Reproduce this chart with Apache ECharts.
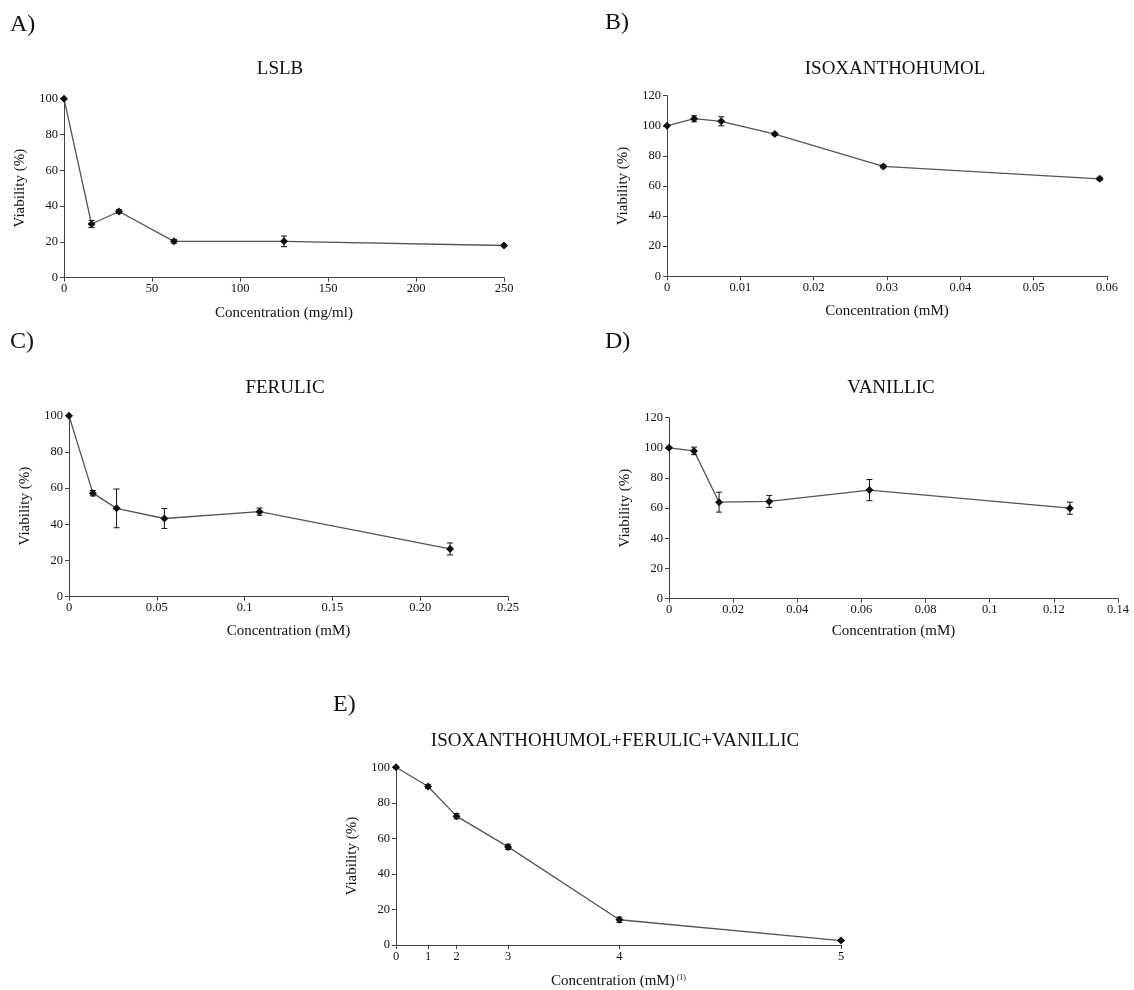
<!DOCTYPE html>
<html><head><meta charset="utf-8">
<script src="https://cdn.jsdelivr.net/npm/echarts@6/dist/echarts.min.js"></script>
<style>html,body{margin:0;padding:0;background:#fff}#c{width:1134px;height:990px}</style>
</head><body><div id="c"></div>
<script>
// ---- Data ----
const xA = [0, 15.625, 31.25, 62.5, 125, 250];
const yA = [100, 30, 37, 20.3, 20.3, 18];
const eA = [0, 2, 1, 1, 3, 0.5];
const ticksA = ['0', '50', '100', '150', '200', '250'];

const xB = [0, 0.0037, 0.0074, 0.0147, 0.0295, 0.059];
const yB = [100, 104.7, 103, 94.5, 73, 64.8];
const eB = [0.5, 2, 3, 0.8, 1, 1];
const ticksB = ['0', '0.01', '0.02', '0.03', '0.04', '0.05', '0.06'];

const xC = [0, 0.0136, 0.0271, 0.0543, 0.1085, 0.217];
const yC = [100, 57.2, 48.8, 43.2, 47, 26.4];
const eC = [0, 1.5, 10.7, 5.5, 2, 3.3];
const ticksC = ['0', '0.05', '0.1', '0.15', '0.20', '0.25'];

const xD = [0, 0.0078, 0.0156, 0.03125, 0.0625, 0.125];
const yD = [100, 98, 64, 64.5, 72, 60];
const eD = [0.5, 2.5, 6.6, 4, 7, 4];
const ticksD = ['0', '0.02', '0.04', '0.06', '0.08', '0.1', '0.12', '0.14'];

const xE = [0, 0.36, 0.68, 1.26, 2.51, 5];
const yE = [100, 89.2, 72.5, 55.2, 14.2, 2.5];
const eE = [0.5, 1, 1.5, 1.5, 1.5, 0.5];
const ticksE = ['0', '1', '2', '3', '4', '5'];

const titles = ['LSLB', 'ISOXANTHOHUMOL', 'FERULIC', 'VANILLIC', 'ISOXANTHOHUMOL+FERULIC+VANILLIC'];
const letters = ['A)', 'B)', 'C)', 'D)', 'E)'];
const xNames = ['Concentration (mg/ml)', 'Concentration (mM)', 'Concentration (mM)', 'Concentration (mM)', 'Concentration (mM){sup| (1)}'];
const yName = 'Viability (%)';

// ---- Layout / styling ----
const FONT = '"Liberation Serif", "DejaVu Serif", serif';
const TXT = '#111';
const panels = [
  {x: xA, y: yA, e: eA, ticks: ticksA, xmax: 250, xint: 50, ymax: 100, gap: 28,
   grid: {left: 64, top: 98.7, width: 440, height: 179},
   title: [280, 69], letter: [10, 25]},
  {x: xB, y: yB, e: eB, ticks: ticksB, xmax: 0.06, xint: 0.01, ymax: 120, gap: 27,
   grid: {left: 667, top: 95.7, width: 440, height: 180.6},
   title: [895, 69], letter: [605, 23]},
  {x: xC, y: yC, e: eC, ticks: ticksC, xmax: 0.25, xint: 0.05, ymax: 100, gap: 27,
   grid: {left: 69, top: 415.7, width: 439, height: 181},
   title: [285, 388], letter: [10, 342]},
  {x: xD, y: yD, e: eD, ticks: ticksD, xmax: 0.14, xint: 0.02, ymax: 120, gap: 25,
   grid: {left: 669, top: 417.7, width: 449, height: 181},
   title: [891, 388], letter: [605, 342]},
  {x: xE, y: yE, e: eE, ticks: ticksE, xmax: 5, xint: null, ymax: 100, custom: true, gap: 29,
   grid: {left: 396, top: 767.3, width: 445, height: 180.7},
   title: [615, 741], letter: [333, 705]}
];

const axisLineStyle = {color: '#444', width: 1};
const grids = [], xAxes = [], yAxes = [], series = [], graphics = [];

function errRender(params, api) {
  const x = api.value(0), y = api.value(1), e = api.value(2);
  if (!e) return null;
  const t = api.coord([x, y + e]);
  const b = api.coord([x, y - e]);
  const cw = 3;
  const st = {stroke: '#111', lineWidth: 1};
  return {type: 'group', children: [
    {type: 'line', shape: {x1: t[0], y1: t[1], x2: b[0], y2: b[1]}, style: st},
    {type: 'line', shape: {x1: t[0] - cw, y1: t[1], x2: t[0] + cw, y2: t[1]}, style: st},
    {type: 'line', shape: {x1: b[0] - cw, y1: b[1], x2: b[0] + cw, y2: b[1]}, style: st}
  ]};
}

panels.forEach((p, i) => {
  grids.push(Object.assign({containLabel: false}, p.grid));
  const xa = {
    type: 'value', gridIndex: i, min: 0, max: p.xmax,
    name: xNames[i], nameLocation: 'middle', nameGap: p.gap,
    nameTextStyle: {fontFamily: FONT, fontSize: 15, color: TXT,
      rich: {sup: {fontFamily: FONT, fontSize: 8, color: TXT, verticalAlign: 'top', lineHeight: 10}}},
    axisLine: {show: true, lineStyle: axisLineStyle},
    axisTick: {show: true, inside: false, length: 4, lineStyle: axisLineStyle},
    splitLine: {show: false},
    axisLabel: {fontFamily: FONT, fontSize: 12.5, color: TXT, margin: 5, showMinLabel: true, showMaxLabel: true}
  };
  if (p.custom) {
    xa.axisLabel.customValues = p.x;
    xa.axisTick.customValues = p.x;
    xa.axisLabel.formatter = v => { const k = p.x.findIndex(q => Math.abs(q - v) < 1e-9); return k >= 0 ? p.ticks[k] : ''; };
  } else {
    xa.interval = p.xint;
    xa.axisLabel.formatter = (v) => p.ticks[Math.round(v / p.xint)];
  }
  xAxes.push(xa);
  yAxes.push({
    type: 'value', gridIndex: i, min: 0, max: p.ymax, interval: 20,
    name: yName, nameLocation: 'middle', nameGap: 36, nameRotate: 90,
    nameTextStyle: {fontFamily: FONT, fontSize: 15, color: TXT},
    axisLine: {show: true, lineStyle: axisLineStyle},
    axisTick: {show: true, inside: false, length: 4, lineStyle: axisLineStyle},
    splitLine: {show: false},
    axisLabel: {fontFamily: FONT, fontSize: 12.5, color: TXT, margin: 6}
  });
  series.push({
    type: 'line', xAxisIndex: i, yAxisIndex: i,
    data: p.x.map((v, k) => [v, p.y[k]]),
    symbol: 'diamond', symbolSize: 8, showSymbol: true,
    lineStyle: {color: '#555', width: 1.3},
    itemStyle: {color: '#111'},
    animation: false, z: 3
  });
  series.push({
    type: 'custom', xAxisIndex: i, yAxisIndex: i,
    data: p.x.map((v, k) => [v, p.y[k], p.e[k]]),
    encode: {x: 0, y: 1},
    renderItem: errRender, animation: false, z: 4
  });
  graphics.push({type: 'text', x: p.title[0], y: p.title[1],
    style: {text: titles[i], font: '19px ' + FONT, fill: TXT,
      textAlign: 'center', align: 'center', textVerticalAlign: 'middle', verticalAlign: 'middle'}});
  graphics.push({type: 'text', x: p.letter[0], y: p.letter[1],
    style: {text: letters[i], font: '24px ' + FONT, fill: TXT,
      textAlign: 'left', align: 'left', textVerticalAlign: 'middle', verticalAlign: 'middle'}});
});

const chart = echarts.init(document.getElementById('c'), null, {renderer: 'canvas'});
chart.setOption({
  backgroundColor: '#fff',
  animation: false,
  grid: grids, xAxis: xAxes, yAxis: yAxes, series: series, graphic: graphics
});
</script></body></html>
